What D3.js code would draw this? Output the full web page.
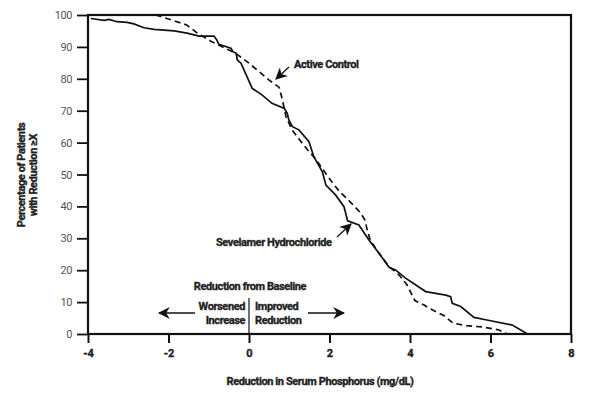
<!DOCTYPE html>
<html>
  <head>
    <meta charset="utf-8">
    <title>Reduction in Serum Phosphorus</title>
    <script src="https://d3js.org/d3.v7.min.js"></script>
    <style>
      body { margin: 0; background: #fff; }
      text { font-family: Roboto, "DejaVu Sans Condensed", sans-serif; fill: #222; }
    </style>
  </head>
  <body>
  </body>
  <script>

// reduction (mg/dL) and percent of patients
var sevelamerX = [-3.93, -3.60, -3.48, -3.28, -3.03, -2.86, -2.61, -2.36, -1.86, -1.54, -1.24, -0.87, -0.80, -0.75,
                  -0.45, -0.40, -0.32, -0.29, -0.20, -0.05, 0.08, 0.33, 0.57, 0.88, 0.95, 0.99, 1.08, 1.24, 1.49,
                  1.61, 1.82, 1.91, 2.15, 2.36, 2.45, 2.73, 2.98, 3.23, 3.48, 3.64, 3.89, 4.39, 4.89, 5.01,
                  5.05, 5.26, 5.59, 5.91, 6.54, 6.92];
var sevelamerY = [98.9, 98.3, 98.6, 97.9, 97.7, 97.2, 96.0, 95.5, 95.0, 94.3, 93.4, 93.4, 92.2, 90.8,
                  89.6, 88.5, 88.0, 85.9, 84.9, 80.7, 77.0, 74.9, 72.3, 70.7, 69.2, 67.1, 65.0, 64.0, 60.3,
                  55.6, 50.9, 46.7, 43.6, 39.9, 35.5, 34.2, 29.5, 25.3, 20.9, 20.1, 17.5, 13.3, 12.2, 11.7,
                  9.6, 8.6, 5.2, 4.4, 2.8, 0];

var controlX = [-2.32, -1.91, -1.55, -1.28, -0.95, -0.50, -0.33, 0.00, 0.50, 0.75, 0.83, 0.92, 1.07, 1.28,
                1.49, 1.65, 1.73, 1.89, 2.07, 2.24, 2.53, 2.77, 2.88, 2.93, 3.01, 3.23, 3.48, 3.73, 3.92,
                4.12, 4.35, 4.47, 4.84, 5.07, 5.40, 5.80, 6.20, 6.42];
var controlY = [100, 98.4, 96.9, 94.3, 91.8, 89.0, 88.0, 84.9, 79.6, 77.3, 73.4, 68.1, 64.0, 60.5,
                57.2, 55.0, 53.5, 50.6, 47.5, 44.8, 41.2, 38.0, 35.7, 33.0, 29.5, 25.3, 21.1, 18.5, 15.5,
                10.5, 9.1, 8.1, 5.8, 3.4, 2.6, 2.2, 1.3, 0];

var xTicks = [-4, -2, 0, 2, 4, 6, 8];
var yTicks = [0, 10, 20, 30, 40, 50, 60, 70, 80, 90, 100];

var mLeft = 88, mRight = 571, mTop = 15, mBottom = 334;

var svg = d3.select("body").append("svg")
            .attr("width", 600)
            .attr("height", 395);

var x = d3.scaleLinear().domain([-4, 8]).range([mLeft, mRight]);
var y = d3.scaleLinear().domain([0, 100]).range([mBottom, mTop]);

// arrow heads
var defs = svg.append("defs");
defs.append("marker")
    .attr("id", "head")
    .attr("viewBox", "0 0 10 10")
    .attr("refX", 9).attr("refY", 5)
    .attr("markerWidth", 12).attr("markerHeight", 12)
    .attr("markerUnits", "userSpaceOnUse")
    .attr("orient", "auto")
  .append("path")
    .attr("d", "M0,0 L10,5 L0,10 L3,5 Z")
    .attr("fill", "#111");

// y axis
var yAxis = svg.append("g")
    .attr("transform", "translate(" + mLeft + ",0)")
    .call(d3.axisLeft(y).tickValues(yTicks).tickSize(11).tickSizeOuter(0).tickPadding(5));
yAxis.select(".domain").remove();
yAxis.selectAll("line").attr("stroke", "#111").attr("stroke-width", 1.8);
yAxis.selectAll("text")
    .style("font-size", "11px")
    .style("letter-spacing", "-0.4px")
    .style("fill", "#555");

// x axis
var xAxis = svg.append("g")
    .attr("transform", "translate(0," + mBottom + ")")
    .call(d3.axisBottom(x).tickValues(xTicks).tickSize(9).tickSizeOuter(0).tickPadding(6)
            .tickFormat(function(d) { return String(d); }));
xAxis.select(".domain").remove();
xAxis.selectAll("line").attr("stroke", "#111").attr("stroke-width", 2);
xAxis.selectAll("text")
    .style("font-size", "11px")
    .style("font-weight", "bold")
    .style("fill", "#222")
    .style("stroke", "#222")
    .style("stroke-width", "0.35px");

// frame
svg.append("rect")
    .attr("x", mLeft).attr("y", mTop)
    .attr("width", mRight - mLeft).attr("height", mBottom - mTop)
    .attr("fill", "none")
    .attr("stroke", "#111")
    .attr("stroke-width", 2.2);

var line = d3.line()
    .x(function(d) { return x(d[0]); })
    .y(function(d) { return y(d[1]); });

svg.append("path")
    .datum(d3.zip(controlX, controlY))
    .attr("d", line)
    .attr("fill", "none")
    .attr("stroke", "#111")
    .attr("stroke-width", 1.7)
    .attr("stroke-dasharray", "6,4");

svg.append("path")
    .datum(d3.zip(sevelamerX, sevelamerY))
    .attr("d", line)
    .attr("fill", "none")
    .attr("stroke", "#111")
    .attr("stroke-width", 1.7);

// bold condensed-looking labels
function label(tx, ty, str, anchor) {
    return svg.append("text")
        .attr("x", tx).attr("y", ty)
        .attr("text-anchor", anchor || "start")
        .style("font-size", "11px")
        .style("font-weight", "bold")
        .style("letter-spacing", "-0.4px")
        .style("stroke", "#222")
        .style("stroke-width", "0.35px")
        .text(str);
}

function arrow(x1, y1, x2, y2) {
    svg.append("line")
        .attr("x1", x1).attr("y1", y1)
        .attr("x2", x2).attr("y2", y2)
        .attr("stroke", "#111")
        .attr("stroke-width", 1.3)
        .attr("marker-end", "url(#head)");
}

// series labels
label(294, 68, "Active Control");
arrow(289, 67, 276, 79);
label(216, 246, "Sevelamer Hydrochloride");
arrow(337, 237, 351, 224);

// baseline direction note
label(250, 290, "Reduction from Baseline", "middle");
label(245, 310, "Worsened", "end");
label(245, 324, "Increase", "end");
label(255, 310, "Improved");
label(255, 324, "Reduction");
svg.append("line")
    .attr("x1", x(0)).attr("x2", x(0))
    .attr("y1", 298).attr("y2", mBottom)
    .attr("stroke", "#111").attr("stroke-width", 1.2);
arrow(195, 313, 159, 313);
arrow(308, 313, 344, 313);

// axis titles
label(320, 385, "Reduction in Serum Phosphorus (mg/dL)", "middle");
label(0, 0, "Percentage of Patients", "middle")
    .attr("transform", "translate(25,175) rotate(-90)");
label(0, 0, "with Reduction \u2265X", "middle")
    .attr("transform", "translate(37,175) rotate(-90)");

  </script>
</html>
